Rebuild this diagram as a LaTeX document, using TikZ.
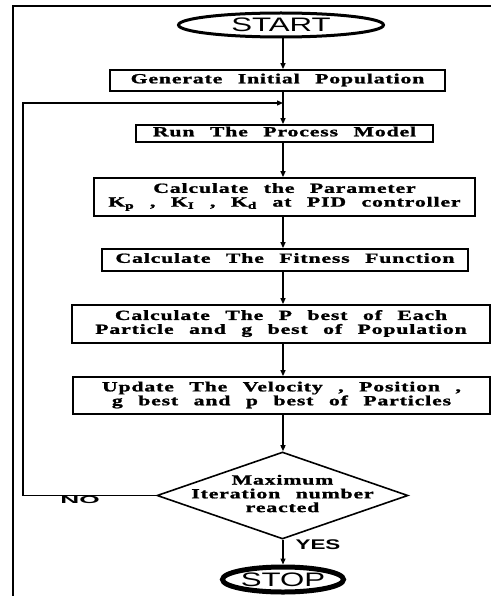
\documentclass[tikz,border=0pt]{standalone}
\usepackage{graphicx}
\usepackage{fontspec}
\setmainfont{Liberation Serif}
\newfontfamily\boxfont[LetterSpace=4,FakeBold=1.2]{Liberation Serif}
\newfontfamily\termfont{Liberation Sans}
\newfontfamily\answerfont{Liberation Sans}
\usetikzlibrary{positioning,shapes.geometric,arrows.meta}
% wide, letter-spaced box text
\newlength\boxwordgap
\setlength\boxwordgap{10pt}
\newcommand\widetext[1]{\scalebox{1.55}[1]{\spaceskip\boxwordgap\begin{tabular}{@{}c@{}}#1\end{tabular}}}

\begin{document}
\begin{tikzpicture}[x=1pt, y=-1pt, ->, >={Triangle[length=6pt,width=5pt]}, line width=1.3pt]
  \tikzset{process/.style={draw, rectangle, inner sep=0pt, line width=1.8pt,
      font=\boxfont\bfseries\fontsize{14}{13.5}\selectfont}}
  \tikzset{terminal/.style={draw, ellipse, inner sep=0pt,
      font=\termfont\fontsize{19.5}{19.5}\selectfont}}
  \tikzset{decision/.style={draw, diamond, line width=1.6pt, inner sep=0pt,
      minimum width=251pt, minimum height=87pt}}
  \tikzset{answer/.style={font=\answerfont\bfseries}}

  \useasboundingbox (0,0) rectangle (490,596);
  \draw[-, line width=1.2pt] (13,6) rectangle (540,650);

  % spine of the chart and the way back
  \coordinate (spine) at (283,0);
  \coordinate (join) at (283,103);
  \coordinate (back) at (23,103);

  \node[terminal, line width=3pt, minimum width=205pt, minimum height=24pt] (start) at (281,25) {\scalebox{1.6}[1]{START}};
  \node[process, minimum width=335pt, minimum height=21pt] (gen) at (277.5,80.5) {\widetext{Generate Initial Population}};
  \node[process, minimum width=297pt, minimum height=17pt] (run) at (284.5,133.5) {\widetext{Run The Process Model}};
  \node[process, minimum width=381pt, minimum height=38pt] (param) at (284.5,197)
    {\widetext{Calculate the Parameter\\K\textsubscript{p} , K\textsubscript{I} , K\textsubscript{d} at PID controller}};
  \node[process, minimum width=366pt, minimum height=22pt] (fit) at (285,260) {\widetext{Calculate The Fitness Function}};
  \node[process, minimum width=418pt, minimum height=38pt] (pbest) at (281,324)
    {\widetext{Calculate The P best of Each\\Particle and g best of Population}};
  \node[process, minimum width=417pt, minimum height=37pt] (upd) at (281.5,395.5)
    {\widetext{Update The Velocity , Position ,\\g best and p best of Particles}};
  \node[decision, label={[process, draw=none, name=declabel]center:{\widetext{Maximum\\Iteration number\\reacted}}}] (dec) at (282.5,495.5) {};
  \node[terminal, line width=5pt, minimum width=121pt, minimum height=25pt] (stop) at (283,579.5) {\scalebox{1.6}[1]{STOP}};

  \node[answer] (no) at (80,500) {\scalebox{2.5}[1]{\fontsize{10.5}{10.5}\selectfont NO}};
  \node[answer] (yes) at (318,545) {\scalebox{1.6}[1]{\fontsize{14}{14}\selectfont YES}};

  \draw (start.south -| spine) -- (gen.north -| spine);
  \draw (gen.south -| spine) -- (run.north -| spine);
  \draw (run.south -| spine) -- (param.north -| spine);
  \draw (param.south -| spine) -- (fit.north -| spine);
  \draw (fit.south -| spine) -- (pbest.north -| spine);
  \draw (pbest.south -| spine) -- (upd.north -| spine);
  \draw (upd.south -| spine) -- (dec.north -| spine);
  \draw (dec.south -| spine) -- (stop.north -| spine);
  \draw (dec.west) -| (back) -- (join);
\end{tikzpicture}
\end{document}
